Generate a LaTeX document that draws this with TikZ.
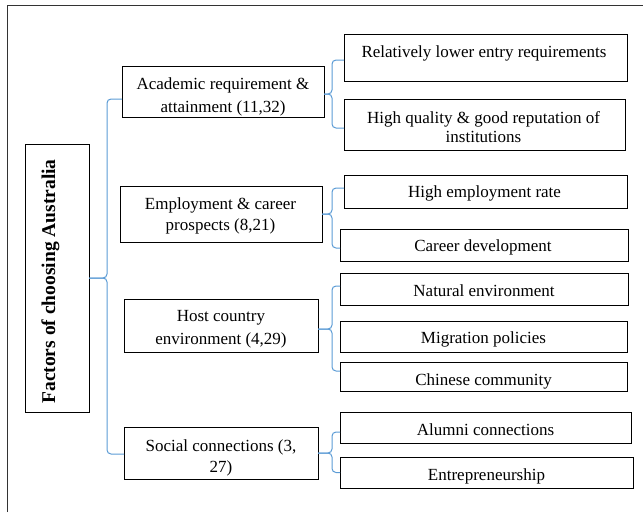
\documentclass[tikz,border=0pt]{standalone}
\usepackage{fontspec}
\setmainfont{Liberation Serif}
\usetikzlibrary{calc}
\definecolor{bracecol}{HTML}{5B9BD5}
\newcommand\twol[3]{{\fontsize{17}{#1}\selectfont\begin{tabular}[t]{@{}c@{}}#2\\#3\end{tabular}}}
\newcommand\bx[5]{\node[box, minimum width={(#4-#2)*1pt}, minimum height={(#5-#3)*1pt}] (#1) at ({(#2+#4)/2},{(#3+#5)/2}) {};}
\begin{document}
\begin{tikzpicture}[x=1pt,y=-1pt,
 box/.style={draw=black, line width=0.9pt, inner sep=0pt, outer sep=0pt, rectangle},
 txt/.style={inner sep=0pt, anchor=base, font=\fontsize{17}{21}\selectfont},
 brace/.style={draw=bracecol, line width=1pt, rounded corners=4pt},
 frame/.style={draw=black!80, line width=1pt}]
\useasboundingbox (0,0) rectangle (643,512);
\coordinate (fa) at (7,512); \coordinate (fb) at (7,5); \coordinate (fc) at (643,5);
\draw[frame] (fa) -- (fb) -- (fc);

% boxes
\bx{main}{25}{144}{89}{412}
\bx{acad}{122}{66}{324}{117}
\bx{rel}{344}{34}{627}{81}
\bx{hq}{344}{99}{625}{150}
\bx{emp}{120}{186}{322}{242}
\bx{her}{344}{175}{627}{208}
\bx{cd}{340}{229}{628}{261}
\bx{nat}{340}{273}{628}{305}
\bx{host}{124}{299}{318}{352}
\bx{mig}{340}{321}{627}{352}
\bx{chi}{340}{362}{627}{391}
\bx{soc}{124}{427}{318}{479}
\bx{alu}{340}{412}{631}{443}
\bx{ent}{340}{457}{633}{488}

% texts
\node[txt, font=\bfseries\fontsize{19.5}{22}\selectfont, rotate=90] (mainT) at (55,281.5) {Factors of choosing Australia};
\node[txt] (acadT) at (223,89.3) {\twol{23}{Academic requirement \&}{attainment (11,32)}};
\node[txt] (relT) at (484,57) {Relatively lower entry requirements};
\node[txt] (hqT) at (483.5,123) {\twol{19}{High quality \& good reputation of}{institutions}};
\node[txt] (empT) at (220.5,209.3) {\twol{21}{Employment \& career}{prospects (8,21)}};
\node[txt] (herT) at (484.5,197) {High employment rate};
\node[txt] (cdT) at (483,251.7) {Career development};
\node[txt] (natT) at (484,296) {Natural environment};
\node[txt] (hostT) at (221,321.7) {\twol{22.3}{Host country}{environment (4,29)}};
\node[txt] (migT) at (483.5,343.3) {Migration policies};
\node[txt] (chiT) at (483.5,385) {Chinese community};
\node[txt] (socT) at (221,451.7) {\twol{20.7}{Social connections (3,}{27)}};
\node[txt] (aluT) at (485.5,435) {Alumni connections};
\node[txt] (entT) at (486.5,480) {Entrepreneurship};

% braces
\coordinate (mj) at ($(main.east)+(18,0)$);
\draw[brace] ([yshift=-7.5pt]acad.west) -| (mj) -- (main.east);
\draw[brace] ([yshift=-1pt]soc.west) -| (mj) -- (main.east);

\coordinate (aj) at ($([yshift=-2.5pt]rel.west |- acad.east)+(-12,0)$);
\draw[brace] ([yshift=-2.5pt]rel.west) -| (aj) -- ([yshift=-2.5pt]acad.east);
\draw[brace] ([yshift=-3.5pt]hq.west) -| (aj) -- ([yshift=-2.5pt]acad.east);

\coordinate (ej) at ($(cd.west |- emp.east)+(-8,0)$);
\draw[brace] ([yshift=3.5pt]her.west) -| (ej) -- (emp.east);
\draw[brace] ([yshift=-3pt]cd.west) -| (ej) -- (emp.east);

\coordinate (hj) at ($([yshift=-3.5pt]nat.west |- host.east)+(-8,0)$);
\draw[brace] ([yshift=3pt]nat.west) -| (hj) -- ([yshift=-3.5pt]host.east);
\draw[brace] ([yshift=5.5pt]chi.west) -| (hj) -- ([yshift=-3.5pt]host.east);

\coordinate (sj) at ($(alu.west |- soc.east)+(-8,0)$);
\draw[brace] ([yshift=-4.5pt]alu.west) -| (sj) -- (soc.east);
\draw[brace] (ent.west) -| (sj) -- (soc.east);
\end{tikzpicture}
\end{document}
